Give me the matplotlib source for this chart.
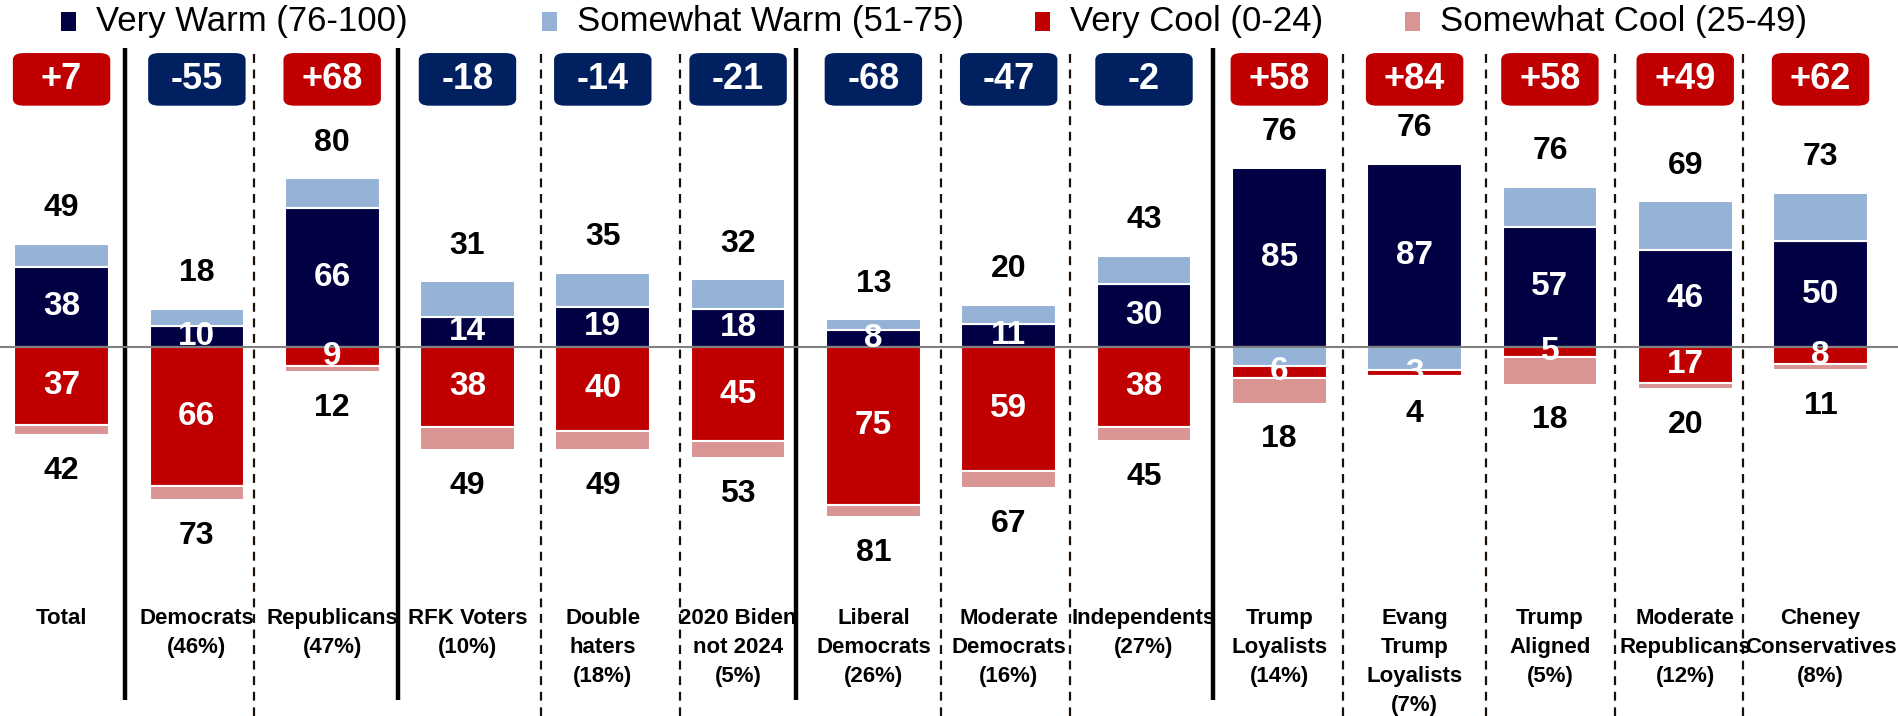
import numpy as np
import matplotlib
matplotlib.use("Agg")
import matplotlib.pyplot as plt
from matplotlib.patches import FancyBboxPatch, Rectangle

plt.rcParams['font.family'] = ['Liberation Sans', 'DejaVu Sans']

# data
categories = ["Total", "Democrats\n(46%)", "Republicans\n(47%)", "RFK Voters\n(10%)",
              "Double\nhaters\n(18%)", "2020 Biden\nnot 2024\n(5%)", "Liberal\nDemocrats\n(26%)",
              "Moderate\nDemocrats\n(16%)", "Independents\n(27%)", "Trump\nLoyalists\n(14%)",
              "Evang\nTrump\nLoyalists\n(7%)", "Trump\nAligned\n(5%)", "Moderate\nRepublicans\n(12%)",
              "Cheney\nConservatives\n(8%)"]
very_warm = [38, 10, 66, 14, 19, 18, 8, 11, 30, 85, 87, 57, 46, 50]
total_warm = [49, 18, 80, 31, 35, 32, 13, 20, 43, 76, 76, 76, 69, 73]
very_cool = [37, 66, 9, 38, 40, 45, 75, 59, 38, 6, 3, 5, 17, 8]
total_cool = [42, 73, 12, 49, 49, 53, 81, 67, 45, 18, 4, 18, 20, 11]
net = [7, -55, 68, -18, -14, -21, -68, -47, -2, 58, 84, 58, 49, 62]
legend_labels = ["Very Warm (76-100)", "Somewhat Warm (51-75)", "Very Cool (0-24)", "Somewhat Cool (25-49)"]

# layout
solid_after = [0, 2, 5, 8]
sep_x = [0.47, 1.42, 2.49, 3.54, 4.57, 5.43, 6.5, 7.45, 8.51, 9.47, 10.53, 11.48, 12.43]

NAVY = "#000042"
LBLUE = "#95B3D7"
RED = "#C00000"
PINK = "#D99594"
BOX_NAVY = "#002060"

vw = np.array(very_warm)
sw = np.array(total_warm) - vw
vc = np.array(very_cool)
sc = np.array(total_cool) - vc
x = np.arange(len(categories))
w = 0.70

fig = plt.figure(figsize=(18.99, 7.16), dpi=100)
ax = fig.add_axes([0, 0, 1, 1])
ax.set_xlim(-0.455, 13.58)
ax.set_ylim(-175.4, 164.7)
ax.axis('off')

kw = dict(width=w, edgecolor='white', linewidth=1.5, zorder=3)
ax.bar(x, vw, color=NAVY, **kw)
sw_bottom = np.where(sw >= 0, vw, 0)
ax.bar(x, sw, bottom=sw_bottom, color=LBLUE, **kw)
cool_start = np.minimum(sw, 0)
ax.bar(x, -vc, bottom=cool_start, color=RED, **kw)
ax.bar(x, -sc, bottom=cool_start - vc, color=PINK, **kw)

ax.axhline(0, color='#808080', linewidth=1.5, zorder=4)

for i in range(len(x)):
    ax.text(x[i], vw[i] / 2, str(very_warm[i]), color='white', fontsize=24,
            fontweight='bold', ha='center', va='center', zorder=5)
    ax.text(x[i], cool_start[i] - vc[i] / 2, str(very_cool[i]), color='white', fontsize=24,
            fontweight='bold', ha='center', va='center', zorder=5)
    top = max(vw[i], vw[i] + sw[i])
    ax.text(x[i], top + 17, str(total_warm[i]), color='black', fontsize=23,
            fontweight='bold', ha='center', va='center')
    bottom = cool_start[i] - vc[i] - sc[i]
    ax.text(x[i], bottom - 17, str(total_cool[i]), color='black', fontsize=23,
            fontweight='bold', ha='center', va='center')
    # net box
    c = RED if net[i] > 0 else BOX_NAVY
    bw, bh = 0.72, 25
    box = FancyBboxPatch((x[i] - bw / 2, 127 - bh / 2), bw, bh,
                         boxstyle="round,pad=0,rounding_size=0.08",
                         mutation_aspect=40, facecolor=c, edgecolor='none', zorder=5)
    ax.add_patch(box)
    ax.text(x[i], 127, f"{net[i]:+d}", color='white', fontsize=26, fontweight='bold',
            ha='center', va='center', zorder=6)
    ax.text(x[i], -124, categories[i], color='black', fontsize=16, fontweight='bold',
            ha='center', va='top', linespacing=1.5)

for j, sx in enumerate(sep_x):
    if j in solid_after:
        ax.plot([sx, sx], [142, -168], color='black', linewidth=3.2, zorder=2,
                solid_capstyle='butt')
    else:
        ax.plot([sx, sx], [139, -176], color='#1a1008', linewidth=1.6,
                linestyle=(0, (4, 3)), zorder=2)

# legend across the top
leg_colors = [NAVY, LBLUE, RED, PINK]
leg_sq = [70, 551, 1044, 1414]
for px, lab, col in zip(leg_sq, legend_labels, leg_colors):
    fig.patches.append(Rectangle((px / 1899 - 0.0045, 1 - 31 / 716), 0.0078, 19 / 716,
                                 transform=fig.transFigure, facecolor=col, edgecolor='none'))
    fig.text((px + 26) / 1899, 1 - 22 / 716, lab, fontsize=25, ha='left', va='center')

fig.savefig("out.png", dpi=100)
